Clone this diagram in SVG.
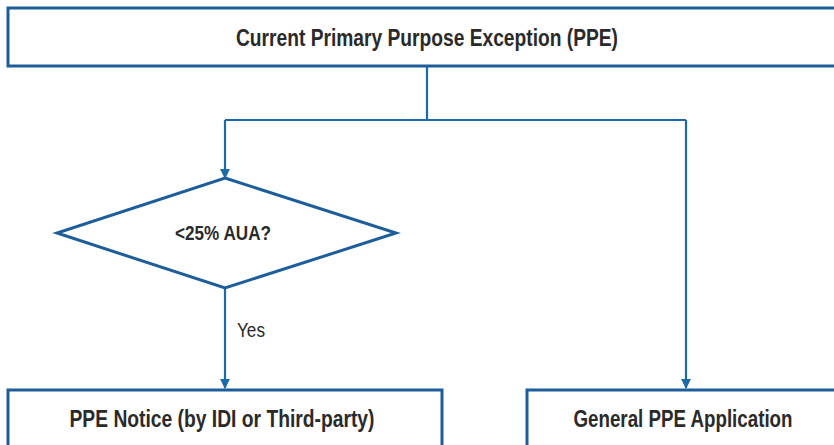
<svg xmlns="http://www.w3.org/2000/svg" width="834" height="445" viewBox="0 0 834 445">
<style>
.box{fill:#fff;stroke:#1d5d99;stroke-width:3}
.conn{fill:none;stroke:#1d6aa8;stroke-width:2.2}
.t{font-family:"Liberation Sans",Arial,sans-serif;font-weight:bold;fill:#2a2a2a;font-size:23px;text-anchor:middle}
</style>
<defs>
<marker id="ah" viewBox="0 0 10 10" refX="9" refY="5" markerWidth="4.5" markerHeight="5" orient="auto" markerUnits="strokeWidth">
<path d="M0,0 L10,5 L0,10 z" fill="#1d6aa8"/>
</marker>
</defs>
<rect width="834" height="445" fill="#fff"/>
<g id="connectors">
<path class="conn" d="M427,66 V120"/>
<path class="conn" d="M225,120 H686"/>
<path class="conn" d="M225,120 V178" marker-end="url(#ah)"/>
<path class="conn" d="M686,120 V388" marker-end="url(#ah)"/>
<path class="conn" d="M225,288 V388" marker-end="url(#ah)"/>
<text class="t" x="251" y="337" textLength="28" lengthAdjust="spacingAndGlyphs" style="font-weight:normal;font-size:20px">Yes</text>
</g>
<g id="top">
<rect class="box" x="8" y="8" width="840" height="58"/>
<text class="t" x="427" y="46" textLength="382" lengthAdjust="spacingAndGlyphs">Current Primary Purpose Exception (PPE)</text>
</g>
<g id="decision">
<polygon class="box" points="225,178 396,233 225,288 57,233"/>
<text class="t" x="223" y="240" textLength="96" lengthAdjust="spacingAndGlyphs" style="font-size:21px">&lt;25% AUA?</text>
</g>
<g id="notice">
<rect class="box" x="8" y="390" width="434" height="70"/>
<text class="t" x="222" y="427" textLength="305" lengthAdjust="spacingAndGlyphs">PPE Notice (by IDI or Third-party)</text>
</g>
<g id="general">
<rect class="box" x="527" y="390" width="320" height="70"/>
<text class="t" x="683" y="427" textLength="219" lengthAdjust="spacingAndGlyphs">General PPE Application</text>
</g>
</svg>
